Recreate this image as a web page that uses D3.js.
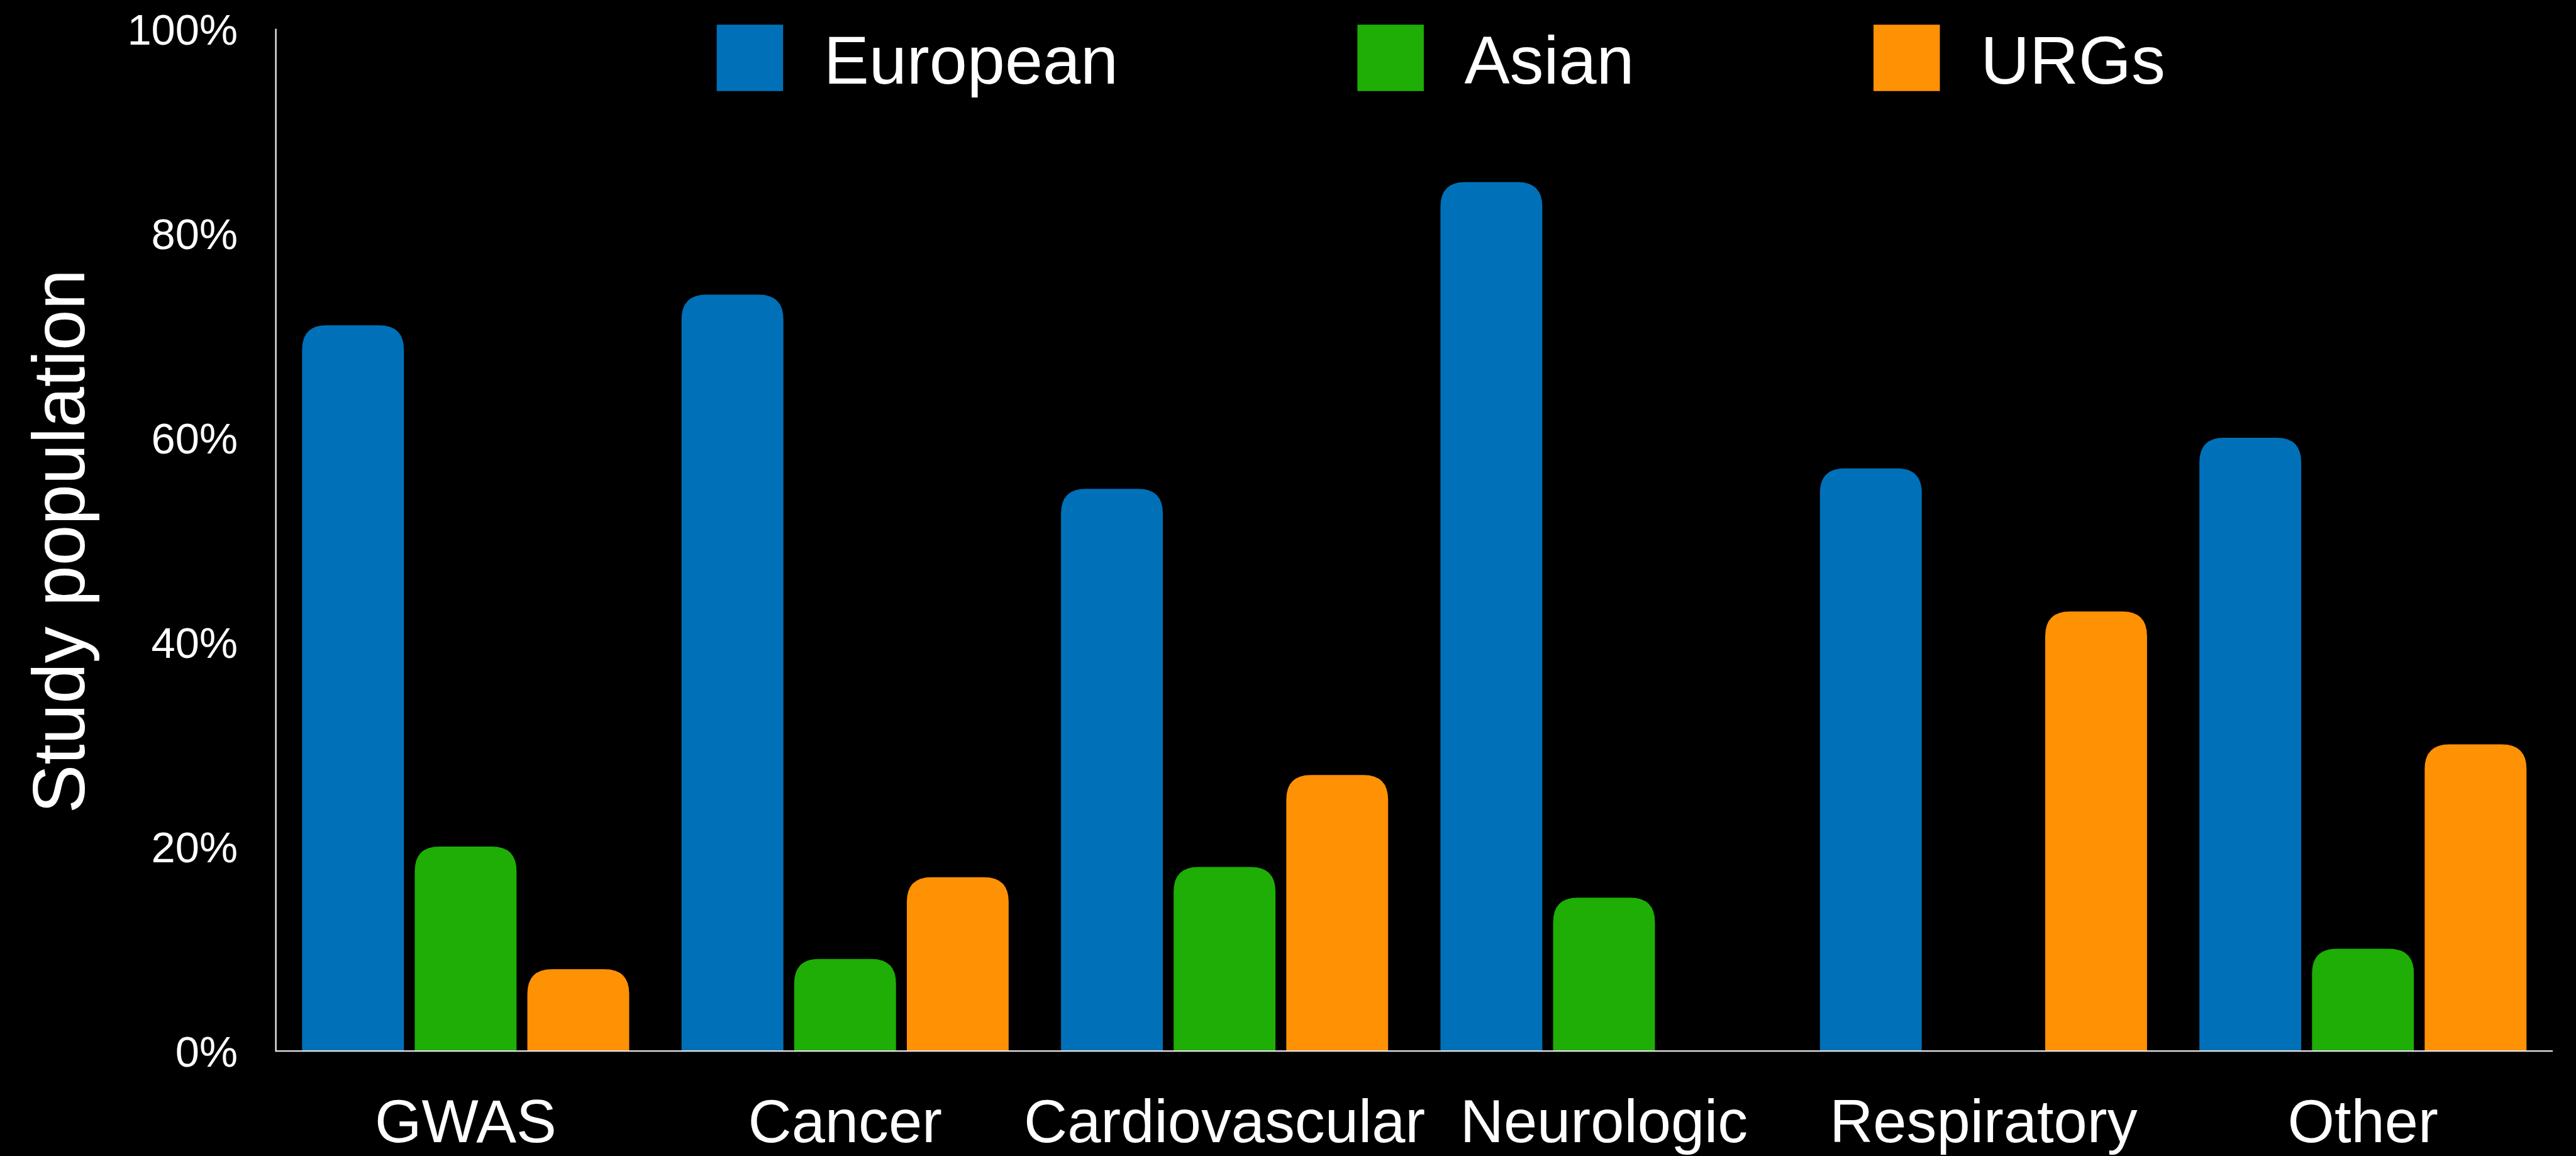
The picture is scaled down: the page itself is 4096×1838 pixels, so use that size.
<!DOCTYPE html>
<html>
<head>
<meta charset="utf-8">
<script src="https://cdn.jsdelivr.net/npm/d3@7"></script>
<style>
  html, body { margin: 0; padding: 0; background: #000; overflow: hidden; }
  svg { display: block; }
  text { font-family: "Liberation Sans", Arial, Helvetica, sans-serif; fill: #fff; }
</style>
</head>
<body>
<svg id="chart"></svg>
<script>
// =========================
// DADES
// =========================
const categories = ["GWAS", "Cancer", "Cardiovascular", "Neurologic", "Respiratory", "Other"];
const series = ["European", "Asian", "URGs"];
const seriesColors = ["#0071b9", "#1eae06", "#ff9105"];

const european = [71, 74, 55, 85, 57, 60];
const asian    = [20, 9, 18, 15, 0, 10];
const urgs     = [8, 17, 27, 0, 43, 30];

const yTicks = [0, 20, 40, 60, 80, 100];
const yTitle = "Study population";

// =========================
// MIDES (coordenades de la referència, escalades amb viewBox)
// =========================
const W = 5007, H = 2247;
const svg = d3.select("#chart")
  .attr("width", 4096)
  .attr("height", 1838)
  .attr("viewBox", `0 0 ${W} ${H}`);

svg.append("rect").attr("width", W).attr("height", H).attr("fill", "#000");

const axisX = 536, axisRight = 4962;
const yTop = 56, yBase = 2043;

const y = d3.scaleLinear().domain([0, 100]).range([yBase, yTop]);

const x0 = d3.scaleBand()
  .domain(categories)
  .range([587, 4911])
  .paddingInner(0.138)
  .paddingOuter(0);

const x1 = d3.scaleBand()
  .domain(series)
  .range([0, x0.bandwidth()])
  .paddingInner(0.096);

const color = d3.scaleOrdinal().domain(series).range(seriesColors);

const rows = categories.map((c, i) => ({
  cat: c,
  values: [european[i], asian[i], urgs[i]].map((v, j) => ({ key: series[j], value: v }))
}));

// barra amb cantonades superiors arrodonides
function topRoundedBar(x, yy, w, h, r) {
  r = Math.min(r, w / 2, h);
  return `M${x},${yy + h}V${yy + r}Q${x},${yy} ${x + r},${yy}H${x + w - r}Q${x + w},${yy} ${x + w},${yy + r}V${yy + h}Z`;
}

// =========================
// BARRES
// =========================
const groups = svg.append("g").selectAll("g")
  .data(rows)
  .join("g")
  .attr("transform", d => `translate(${x0(d.cat)},0)`);

groups.selectAll("path")
  .data(d => d.values.filter(v => v.value > 0))
  .join("path")
  .attr("d", d => topRoundedBar(x1(d.key), y(d.value), x1.bandwidth(), yBase - y(d.value), 48))
  .attr("fill", d => color(d.key));

// =========================
// EIXOS
// =========================
svg.append("line")
  .attr("x1", axisX).attr("x2", axisX)
  .attr("y1", yTop).attr("y2", yBase + 1.5)
  .attr("stroke", "#e6e6e6").attr("stroke-width", 3);

svg.append("line")
  .attr("x1", axisX).attr("x2", axisRight)
  .attr("y1", yBase).attr("y2", yBase)
  .attr("stroke", "#e6e6e6").attr("stroke-width", 3);

const yAxis = svg.append("g")
  .attr("transform", `translate(${axisX},0)`)
  .call(d3.axisLeft(y).tickValues(yTicks).tickFormat(d => d + "%").tickSize(0).tickPadding(74));
yAxis.select(".domain").remove();
yAxis.selectAll("text")
  .attr("dy", "0.36em")
  .style("font-size", "84px")
  .attr("fill", "#fff");

const xAxis = svg.append("g")
  .attr("transform", `translate(0,${yBase})`)
  .call(d3.axisBottom(x0).tickSize(0).tickPadding(0));
xAxis.select(".domain").remove();
xAxis.selectAll("text")
  .attr("y", 177)
  .attr("dy", 0)
  .style("font-size", "117px")
  .attr("fill", "#fff");

// títol eix Y
svg.append("text")
  .attr("transform", `translate(163,1052) rotate(-90)`)
  .attr("text-anchor", "middle")
  .style("font-size", "142px")
  .text(yTitle);

// =========================
// LLEGENDA
// =========================
const legend = svg.append("g");
let lx = 1393;
series.forEach((s, i) => {
  legend.append("rect")
    .attr("x", lx).attr("y", 48)
    .attr("width", 129).attr("height", 129)
    .attr("fill", seriesColors[i]);
  const t = legend.append("text")
    .attr("x", lx + 208)
    .attr("y", 163)
    .style("font-size", "132px")
    .text(s);
  lx = lx + 208 + t.node().getComputedTextLength() + 465;
});
</script>
</body>
</html>
